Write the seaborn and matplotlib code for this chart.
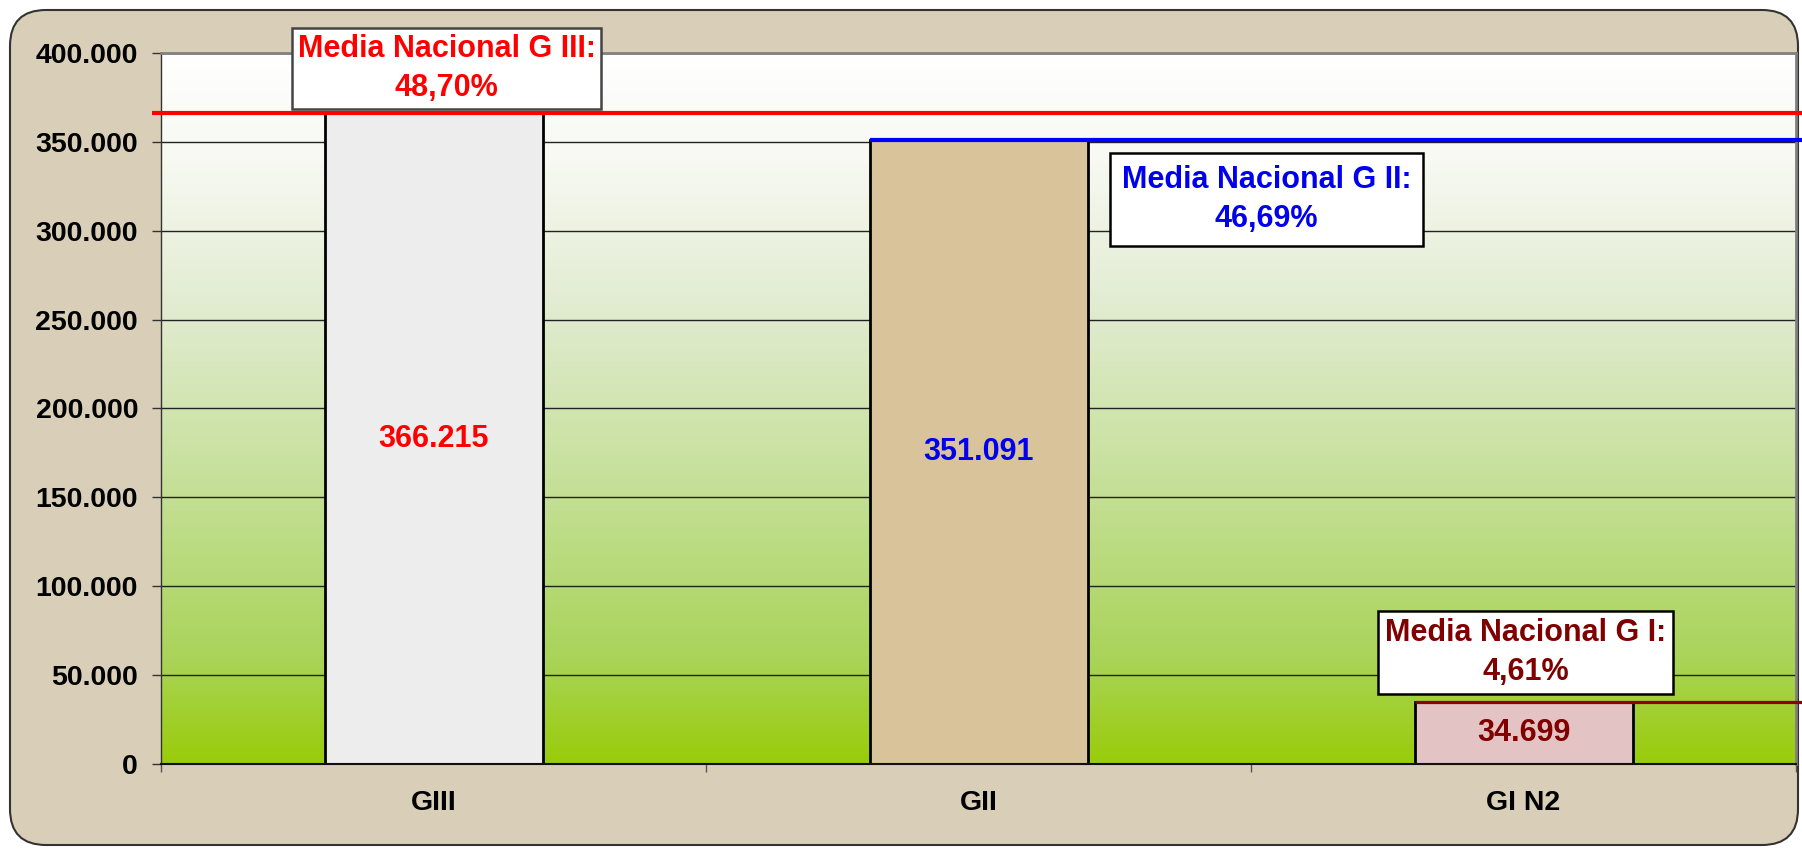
import numpy as np
import pandas as pd
import matplotlib
matplotlib.use("Agg")
import matplotlib.pyplot as plt
import seaborn as sns
from matplotlib.patches import FancyBboxPatch
from matplotlib.colors import LinearSegmentedColormap
from matplotlib.ticker import FuncFormatter, FixedLocator

# ---------------- data ----------------
categories = ["GIII", "GII", "GI N2"]
values = [366215, 351091, 34699]
value_labels = ["366.215", "351.091", "34.699"]
media_labels = ["Media Nacional G III:\n48,70%",
                "Media Nacional G II:\n46,69%",
                "Media Nacional G I:\n4,61%"]
y_ticks = [0, 50000, 100000, 150000, 200000, 250000, 300000, 350000, 400000]

# ---------------- styles ----------------
bar_colors = ["#EDEDED", "#E4C68F", "#E9BEC0"]
text_colors = ["#FF0000", "#0000EE", "#800000"]
line_colors = ["#FF0000", "#0000FF", "#8B0000"]

sns.set_style("white")
plt.rcParams["font.family"] = ["Liberation Sans", "DejaVu Sans"]
plt.rcParams["font.weight"] = "bold"

fig = plt.figure(figsize=(18.02, 8.49), dpi=100)
fig.patch.set_facecolor("white")

# outer rounded frame
W, H = 1802, 849
frame = FancyBboxPatch((10 / W, 4 / H), 1788 / W, 835 / H,
                       boxstyle="round,pad=0,rounding_size=0.02",
                       mutation_aspect=W / H,
                       transform=fig.transFigure, facecolor="#D9CFB8",
                       edgecolor="#333333", linewidth=1.5, zorder=0)
fig.patches.append(frame)

ax = fig.add_axes([161 / W, 1 - 764 / H, (1796 - 161) / W, (764 - 53) / H])
ax.set_zorder(1)

# gradient background of plot area
cmap = LinearSegmentedColormap.from_list(
    "bg", [(0.0, "#99CC0A"), (0.15, "#AAD45A"), (0.4, "#C6E09A"),
           (0.65, "#E2ECD2"), (0.85, "#F7F9F2"), (1.0, "#FFFFFF")])
grad = np.linspace(0, 1, 256).reshape(-1, 1)
ax.imshow(grad, cmap=cmap, aspect="auto", extent=[0, 1, 0, 1],
          transform=ax.transAxes, origin="lower", zorder=-2)

df = pd.DataFrame({"cat": categories, "val": values})
sns.barplot(data=df, x="cat", y="val", hue="cat", palette=bar_colors,
            width=0.4, edgecolor="black", linewidth=2, legend=False,
            ax=ax, zorder=2)

ax.set_xlim(-0.5, 2.5)
ax.set_ylim(0, 400000)
ax.set_xlabel("")
ax.set_ylabel("")

# grid
ax.set_axisbelow(True)
ax.yaxis.grid(True, color="#222222", linewidth=1)
ax.xaxis.grid(False)

# ticks
ax.yaxis.set_major_locator(FixedLocator(y_ticks))
ax.yaxis.set_major_formatter(FuncFormatter(lambda v, p: f"{int(v):,}".replace(",", ".")))
ax.tick_params(axis="y", which="major", direction="out", length=6.5, width=1,
               color="#333333", pad=10, labelsize=20.5, left=True)
ax.set_xticks(range(len(categories)))
ax.set_xticklabels(categories)
ax.tick_params(axis="x", which="major", length=0, pad=19, labelsize=20.5)
ax.xaxis.set_minor_locator(FixedLocator([-0.5, 0.5, 1.5, 2.5]))
ax.tick_params(axis="x", which="minor", direction="out", length=6, width=1,
               color="#555555", bottom=True)
for lab in ax.get_xticklabels() + ax.get_yticklabels():
    lab.set_fontweight("bold")
    lab.set_color("black")

for side in ["top", "right"]:
    ax.spines[side].set_color("#808080")
    ax.spines[side].set_linewidth(2)
ax.spines["left"].set_color("#333333")
ax.spines["left"].set_linewidth(1)
ax.spines["bottom"].set_color("#111111")
ax.spines["bottom"].set_linewidth(1.5)

# mean reference lines
x_right = 2.5 + 8 / 545
line_starts = [-0.5 - 9 / 545, 1 - 0.2, 2 - 0.2]
line_widths = [3, 3, 2.3]
for v, xs, c, lw in zip(values, line_starts, line_colors, line_widths):
    ax.hlines(v, xs, x_right, colors=c, linewidth=lw, zorder=4, clip_on=False)

# value labels in the bars
for i, (v, lab, c) in enumerate(zip(values, value_labels, text_colors)):
    ax.text(i, v / 2, lab, ha="center", va="center", color=c,
            fontsize=22, fontweight="bold", zorder=6)

# media annotation boxes
box_pos = [(0.024, 391300), (1.528, 317600), (2.004, 62700)]
box_pads = [0.18, 0.38, 0.22]
box_edges = ["#444444", "black", "black"]
for (bx, by), lab, c, pad, ec in zip(box_pos, media_labels, text_colors,
                                     box_pads, box_edges):
    ax.text(bx, by, lab, ha="center", va="center", color=c, fontsize=22,
            fontweight="bold", linespacing=1.4, multialignment="center",
            zorder=7, clip_on=False,
            bbox=dict(boxstyle=f"square,pad={pad}", facecolor="white",
                      edgecolor=ec, linewidth=1.8))

fig.savefig("out.png", dpi=100, facecolor=fig.get_facecolor())
